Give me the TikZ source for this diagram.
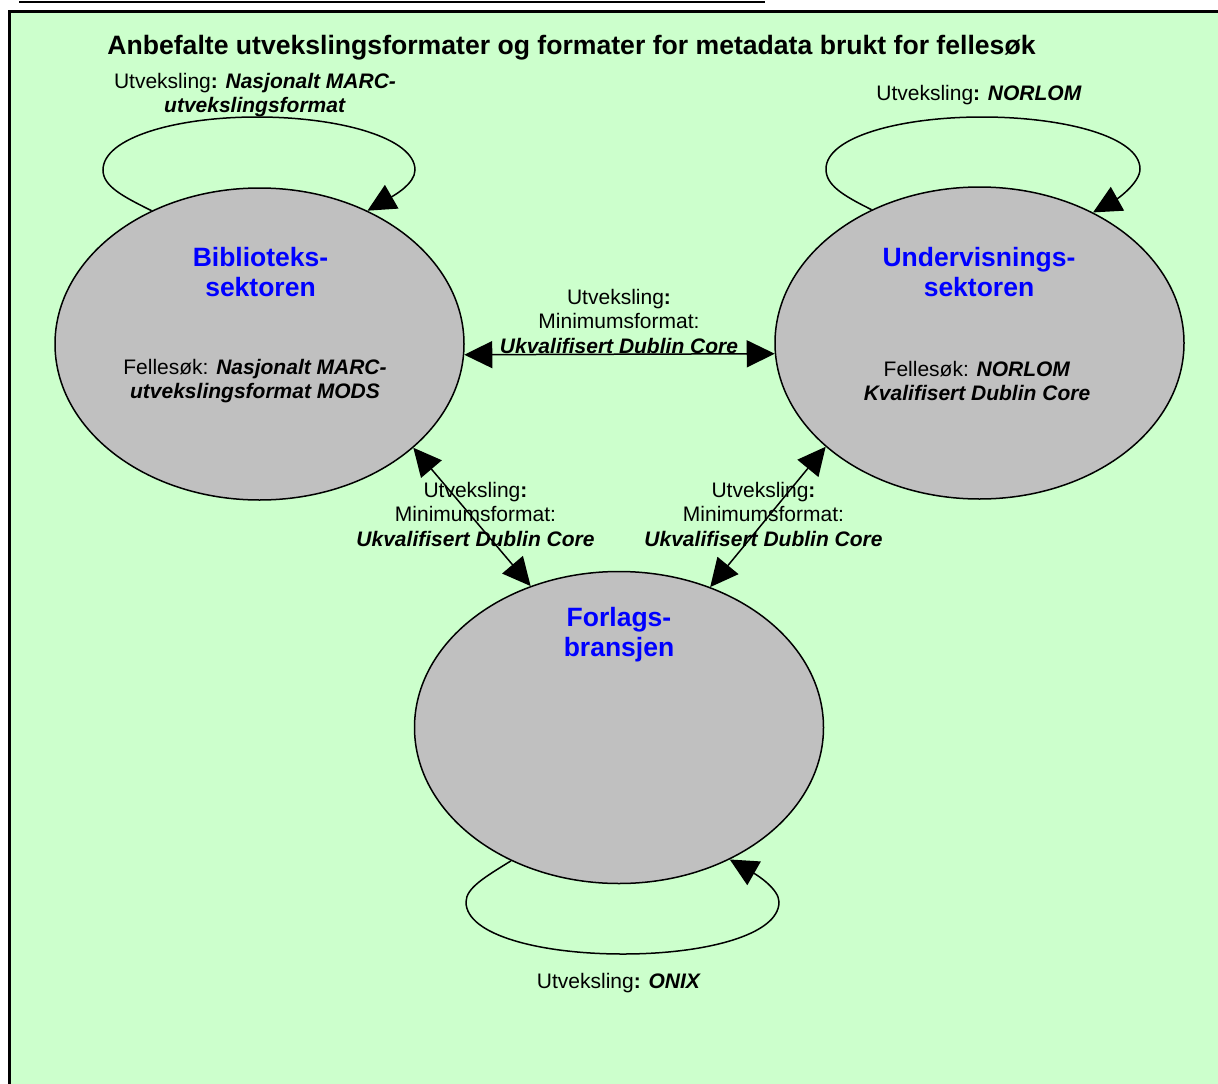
\documentclass[tikz,border=0pt]{standalone}
\usepackage{fontspec}
\setmainfont{Liberation Sans}
\usetikzlibrary{shapes.geometric,arrows.meta}
\definecolor{bg}{HTML}{CCFFCC}
\definecolor{ellfill}{HTML}{C0C0C0}
\definecolor{lbl}{HTML}{0000FF}
\begin{document}
\begin{tikzpicture}[x=1pt,y=-1pt,
  sector/.style={ellipse, draw, line width=1.5pt, fill=ellfill, minimum width=409pt, minimum height=312pt, inner sep=0pt},
  conn/.style={line width=1.5pt, {Triangle[length=28pt,width=27pt]}-{Triangle[length=28pt,width=27pt]}},
  loopc/.style={line width=1.5pt, -{Triangle[length=28pt,width=27pt]}},
  txt/.style={font=\fontsize{21}{24.5}\selectfont, align=center, inner sep=0pt},
  ttl/.style={font=\fontsize{26.6}{30}\selectfont\bfseries, inner sep=0pt},
  sec/.style={font=\fontsize{26.5}{30}\selectfont\bfseries, text=lbl, align=center, inner sep=0pt}]
\useasboundingbox (0,0) rectangle (1218,1084);
\clip (0,0) rectangle (1218,1084);
% frame
\fill[white] (0,0) rectangle (1218,1084);
\draw[line width=2.5pt] (19,2) -- (765,2);
\draw[line width=2.5pt, fill=bg] (9.5,11.5) rectangle (1240,1110);
% title
\node[ttl] (title) at (571.5,47.5) {Anbefalte utvekslingsformater og formater for metadata brukt for fellesøk};
% sectors
\node[sector] (bib) at (259.5,344) {};
\node[sector] (und) at (979.5,343) {};
\node[sector] (for) at (619,727.5) {};
% sector labels
\node[sec] (bibl) at (260.5,272) {Biblioteks-\\sektoren};
\node[sec] (undl) at (979,272) {Undervisnings-\\sektoren};
\node[sec] (forl) at (619,635) {Forlags-\\bransjen};
\node[txt] (bibf) at (255,381) {Fellesøk: \textbf{\textit{Nasjonalt MARC-}}\\\textbf{\textit{utvekslingsformat MODS}}};
\node[txt] (undf) at (977,381) {Fellesøk: \textbf{\textit{NORLOM}}\\\textbf{\textit{Kvalifisert Dublin Core}}};
% exchange labels
\node[txt] (bibx) at (255,95) {Utveksling\textbf{: \textit{Nasjonalt MARC-}}\\\textbf{\textit{utvekslingsformat}}};
\node[txt] (undx) at (979,95) {Utveksling\textbf{: \textit{NORLOM}}};
\node[txt] (forx) at (619,983) {Utveksling\textbf{: \textit{ONIX}}};
\node[txt] (midx) at (619,321) {Utveksling\textbf{:}\\Minimumsformat:\\\textbf{\textit{Ukvalifisert Dublin Core}}};
\node[txt] (leftx) at (475.5,514) {Utveksling\textbf{:}\\Minimumsformat:\\\textbf{\textit{Ukvalifisert Dublin Core}}};
\node[txt] (rightx) at (763.5,514) {Utveksling\textbf{:}\\Minimumsformat:\\\textbf{\textit{Ukvalifisert Dublin Core}}};
% connectors
\draw[conn] (bib.-3.4) -- (und.183.6);
\draw[conn] (bib.-34.6) -- (for.122.3);
\draw[conn] (und.214.7) -- (for.57.7);
% loops
\draw[loopc] (bib.129.7) .. controls (122,196) and (103,186) .. (103,170)
  .. controls (103,138) and (175,117) .. (257,117)
  .. controls (340,117) and (415,138) .. (415,170)
  .. controls (415,184) and (393,196) .. (bib.51);
\draw[loopc] (und.129.3) .. controls (842,195) and (826,185) .. (826,169)
  .. controls (826,137) and (900,117) .. (982,117)
  .. controls (1065,117) and (1140,137) .. (1140,169)
  .. controls (1140,183) and (1117,199) .. (und.49.3);
\draw[loopc] (for.231.5) .. controls (485,877) and (466,888) .. (466,902)
  .. controls (466,935) and (540,954) .. (623,954)
  .. controls (705,954) and (779,935) .. (779,902)
  .. controls (779,889) and (757,875) .. (for.310.4);
\end{tikzpicture}
\end{document}
